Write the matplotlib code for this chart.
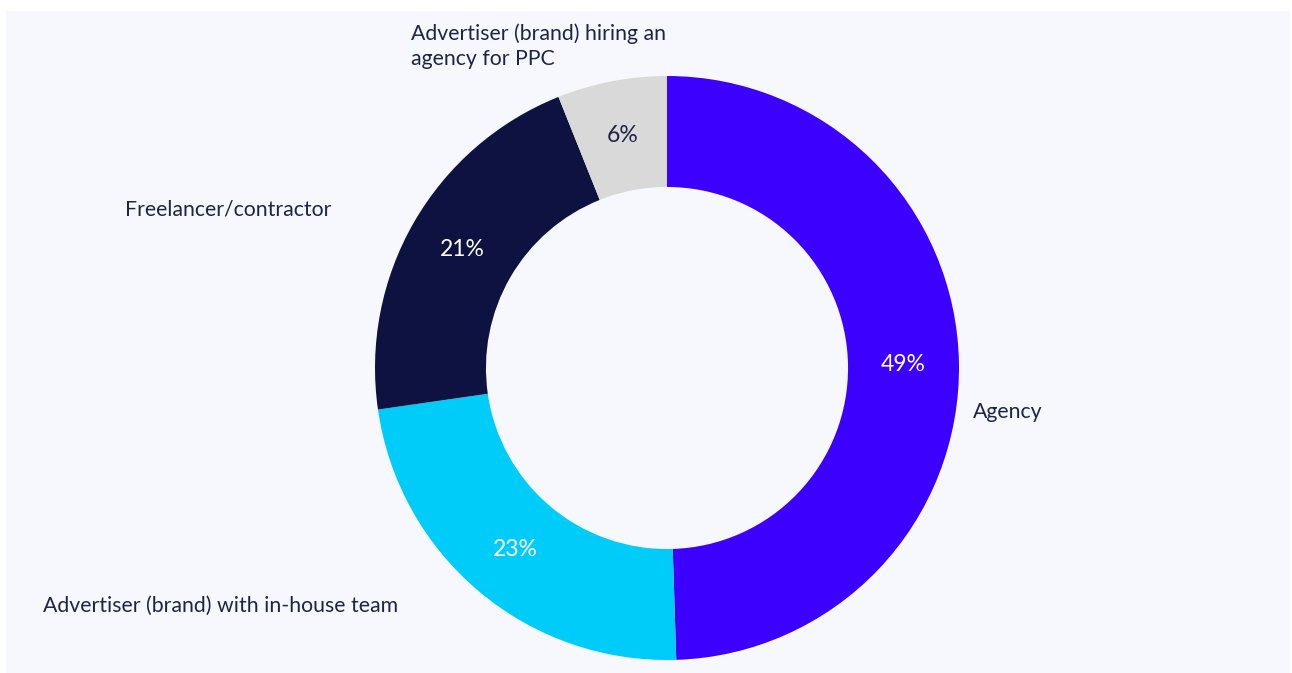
import matplotlib

matplotlib.use('Agg')
import matplotlib.pyplot as plt
from matplotlib.patches import Rectangle

categories = [
    'Agency',
    'Advertiser (brand) with in-house team',
    'Freelancer/contractor',
    'Advertiser (brand) hiring an\nagency for PPC',
]
shares = [49, 23, 21, 6]
slice_colors = ['#3C00FF', '#00CCFA', '#0D1240', '#D9D9D9']
pct_colors = ['white', 'white', 'white', '#1F2347']

TEXT_COLOR = '#1F2347'
PANEL_COLOR = '#F7F8FD'

W, H = 1292, 673
plt.rcParams['font.family'] = ['Lato', 'DejaVu Sans']

fig = plt.figure(figsize=(W / 100, H / 100), dpi=100, facecolor='white')
fig.patches.append(Rectangle((6 / W, 0), 1284 / W, 662 / H,
                             transform=fig.transFigure, facecolor=PANEL_COLOR,
                             edgecolor='none', zorder=-10))

ax = fig.add_axes([0, 0, 1, 1])
ax.set_facecolor('none')
ax.set_zorder(1)

center = (667, H - 368)
radius = 292
wedges, _, autotexts = ax.pie(
    shares, colors=slice_colors, startangle=90, counterclock=False,
    center=center, radius=radius, autopct='%.0f%%', pctdistance=0.81,
    wedgeprops=dict(width=radius * 0.38, linewidth=0),
    textprops=dict(fontsize=16.5),
)
for t, v, c in zip(autotexts, shares, pct_colors):
    t.set_text(f'{v}%')
    t.set_color(c)

# category labels placed outside the ring
label_pos = [(973, H - 412), (43, H - 606), (125, H - 210), (411, H - 46)]
for name, (x, y) in zip(categories, label_pos):
    ax.text(x, y, name, ha='left', va='center', fontsize=15.3,
            color=TEXT_COLOR, linespacing=1.3)

ax.set_xlim(0, W)
ax.set_ylim(0, H)
ax.set_aspect('equal')
ax.axis('off')

fig.savefig('out.png', dpi=100, facecolor='white')
